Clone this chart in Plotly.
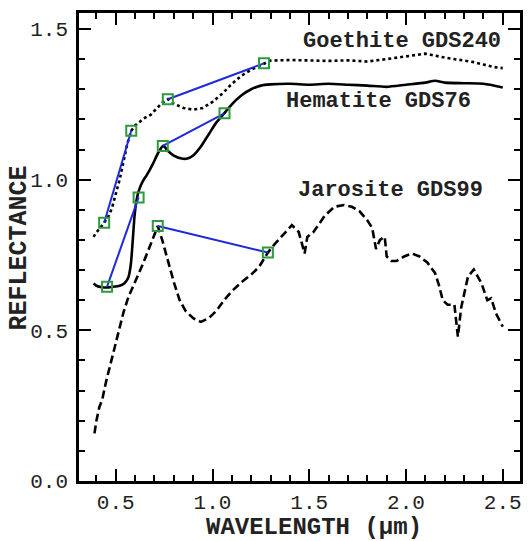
import plotly.graph_objects as go

# Goethite GDS240 (dotted)
goe_x = [0.385, 0.40, 0.42, 0.44, 0.46, 0.48, 0.50, 0.52, 0.54, 0.56, 0.58, 0.60, 0.62, 0.65, 0.68, 0.71, 0.74, 0.77,
         0.80, 0.85, 0.90, 0.95, 1.00, 1.05, 1.10, 1.15, 1.20, 1.25, 1.27, 1.30, 1.40, 1.50, 1.60, 1.70, 1.80, 1.90,
         2.00, 2.10, 2.20, 2.30, 2.35, 2.40, 2.45, 2.50]
goe_y = [0.81, 0.825, 0.84, 0.857, 0.875, 0.905, 0.95, 1.00, 1.06, 1.12, 1.162, 1.18, 1.19, 1.205, 1.215, 1.235, 1.255, 1.267,
         1.252, 1.238, 1.232, 1.238, 1.258, 1.285, 1.318, 1.345, 1.365, 1.38, 1.387, 1.395, 1.397, 1.395, 1.394, 1.396, 1.392, 1.400,
         1.408, 1.418, 1.405, 1.395, 1.39, 1.382, 1.374, 1.37]

# Hematite GDS76 (solid)
hem_x = [0.385, 0.40, 0.43, 0.455, 0.48, 0.52, 0.545, 0.565, 0.578, 0.588, 0.597, 0.607, 0.62, 0.64, 0.66, 0.69, 0.72, 0.745,
         0.77, 0.80, 0.84, 0.87, 0.90, 0.94, 0.98, 1.02, 1.06, 1.10, 1.15, 1.20, 1.25, 1.30, 1.40, 1.50, 1.60, 1.70,
         1.80, 1.90, 2.00, 2.10, 2.15, 2.20, 2.30, 2.40, 2.50]
hem_y = [0.655, 0.648, 0.643, 0.642, 0.644, 0.648, 0.656, 0.675, 0.72, 0.80, 0.88, 0.93, 0.965, 0.995, 1.015, 1.05, 1.09, 1.112,
         1.095, 1.08, 1.07, 1.07, 1.08, 1.11, 1.15, 1.19, 1.22, 1.25, 1.28, 1.30, 1.312, 1.316, 1.318, 1.315, 1.318, 1.315,
         1.312, 1.308, 1.315, 1.322, 1.328, 1.322, 1.32, 1.318, 1.306]

# Jarosite GDS99 (dashed)
jar_x = [0.39, 0.40, 0.415, 0.43, 0.45, 0.48, 0.51, 0.54, 0.565, 0.60, 0.64, 0.68, 0.717, 0.74, 0.77, 0.80, 0.83, 0.86,
         0.90, 0.94, 0.98, 1.02, 1.06, 1.10, 1.15, 1.20, 1.24, 1.286, 1.32, 1.36, 1.41, 1.445, 1.476, 1.49, 1.52, 1.58,
         1.63, 1.68, 1.72, 1.76, 1.80, 1.825, 1.845, 1.865, 1.89, 1.90, 1.925, 1.95, 1.99, 2.03, 2.07, 2.11, 2.15, 2.17,
         2.19, 2.215, 2.25, 2.268, 2.285, 2.32, 2.35, 2.39, 2.42, 2.44, 2.465, 2.50]
jar_y = [0.158, 0.20, 0.245, 0.27, 0.33, 0.41, 0.49, 0.56, 0.61, 0.66, 0.72, 0.785, 0.846, 0.80, 0.73, 0.66, 0.60, 0.565,
         0.54, 0.528, 0.54, 0.565, 0.60, 0.63, 0.66, 0.685, 0.71, 0.758, 0.785, 0.815, 0.849, 0.827, 0.755, 0.81, 0.825, 0.88,
         0.91, 0.916, 0.91, 0.895, 0.865, 0.84, 0.77, 0.80, 0.81, 0.745, 0.73, 0.73, 0.745, 0.755, 0.745, 0.725, 0.69, 0.65,
         0.60, 0.585, 0.585, 0.479, 0.575, 0.678, 0.702, 0.656, 0.60, 0.606, 0.556, 0.512]

# Continuum segments (blue lines with green squares)
cont_goe1_x = [0.44, 0.58]
cont_goe1_y = [0.857, 1.162]
cont_goe2_x = [0.769, 1.266]
cont_goe2_y = [1.267, 1.386]
cont_hem1_x = [0.455, 0.618]
cont_hem1_y = [0.645, 0.941]
cont_hem2_x = [0.743, 1.062]
cont_hem2_y = [1.112, 1.22]
cont_jar_x = [0.717, 1.286]
cont_jar_y = [0.846, 0.758]

labels = ["Goethite GDS240", "Hematite GDS76", "Jarosite GDS99"]
label_x = [1.98, 1.86, 1.92]
label_y = [1.458, 1.258, 0.963]

x_tickvals = [0.5, 1.0, 1.5, 2.0, 2.5]
x_ticktext = ["0.5", "1.0", "1.5", "2.0", "2.5"]
y_tickvals = [0.0, 0.5, 1.0, 1.5]
y_ticktext = ["0.0", "0.5", "1.0", "1.5"]

MONO = "Liberation Mono, Courier New, monospace"
BLUE = "#1e28dc"
GREEN = "#2e9a3c"

fig = go.Figure()
fig.add_trace(go.Scatter(x=goe_x, y=goe_y, mode="lines", line=dict(color="black", width=2.6, dash="dot")))
fig.add_trace(go.Scatter(x=hem_x, y=hem_y, mode="lines", line=dict(color="black", width=2.6, shape="spline", smoothing=0.6)))
fig.add_trace(go.Scatter(x=jar_x, y=jar_y, mode="lines", line=dict(color="black", width=2.6, dash="8px,4px")))

for cx, cy in [(cont_goe1_x, cont_goe1_y), (cont_goe2_x, cont_goe2_y), (cont_hem1_x, cont_hem1_y),
               (cont_hem2_x, cont_hem2_y), (cont_jar_x, cont_jar_y)]:
    fig.add_trace(go.Scatter(x=cx, y=cy, mode="lines", line=dict(color=BLUE, width=2)))
    fig.add_trace(go.Scatter(x=cx, y=cy, mode="markers",
                             marker=dict(symbol="square-open", size=10, color=GREEN, line=dict(width=2, color=GREEN))))

for t, lx, ly in zip(labels, label_x, label_y):
    fig.add_annotation(x=lx, y=ly, text=t, showarrow=False, xanchor="center", yanchor="middle",
                       font=dict(family=MONO, size=22, color="#222", weight="bold"))

fig.add_annotation(xref="paper", yref="paper", x=0.534, y=-0.10, text="WAVELENGTH (μm)", showarrow=False,
                   xanchor="center", yanchor="middle", font=dict(family=MONO, size=24, color="#222", weight="bold"))
fig.add_annotation(xref="paper", yref="paper", x=-0.135, y=0.498, text="REFLECTANCE", showarrow=False, textangle=-90,
                   xanchor="center", yanchor="middle", font=dict(family=MONO, size=25, color="#222", weight="bold"))

axis_common = dict(showgrid=False, zeroline=False, showline=True, linecolor="black", linewidth=2.5, mirror="ticks",
                   ticks="inside", ticklen=12, tickwidth=2, tickcolor="black",
                   tickfont=dict(family=MONO, size=21, color="#222"))
fig.update_xaxes(range=[0.31, 2.589], tickvals=x_tickvals, ticktext=x_ticktext,
                 minor=dict(dtick=0.1, tick0=0, ticks="inside", ticklen=6, tickwidth=2, tickcolor="black"),
                 ticklabelstandoff=0, **axis_common)
fig.update_yaxes(range=[0, 1.553], tickvals=y_tickvals, ticktext=y_ticktext,
                 minor=dict(dtick=0.1, tick0=0, ticks="inside", ticklen=6, tickwidth=2, tickcolor="black"),
                 ticklabelstandoff=4, **axis_common)

fig.update_layout(width=529, height=541, margin=dict(l=79, r=6, t=13, b=60), showlegend=False,
                  plot_bgcolor="white", paper_bgcolor="white")
fig.write_html("out.html", config={"displayModeBar": False}, post_script="document.body.style.margin='0';")
